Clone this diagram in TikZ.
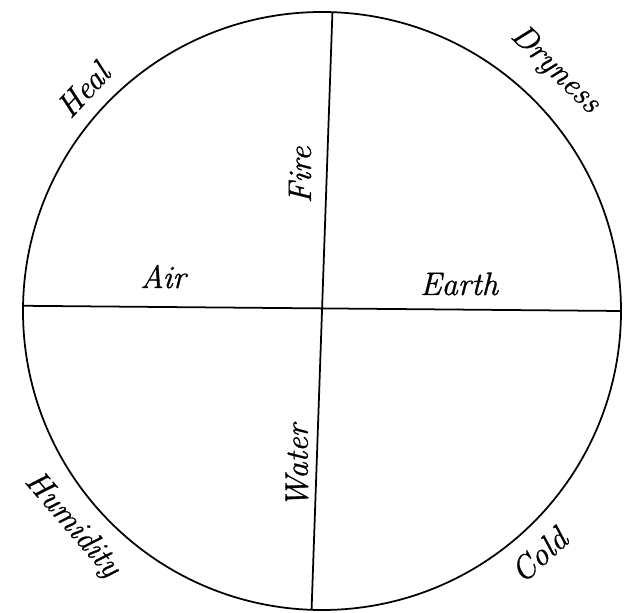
\documentclass[tikz,border=0pt]{standalone}
\usepackage{fontspec}
\newfontfamily\heavyroman{Latin Modern Roman}[FakeBold=0.9]
\begin{document}
\begin{tikzpicture}[
    word/.style={font=\heavyroman\fontsize{18.5}{22}\selectfont\itshape, inner sep=0pt},
    rim/.style={line width=1pt}]
    \useasboundingbox (-6.44,-6.02) rectangle (6.06,6.22);
    \node[rim, circle, draw, minimum size=11.96cm, inner sep=0pt, outer sep=0pt] (world) at (0,0) {};
    \draw[rim] (world.88.9) -- (world.268.9);
    \draw[rim] (world.179.3) -- (world.-0.7);
    \node[word, rotate=90] (fire) at (-0.44,2.72) {Fire};
    \node[word, rotate=90] (water) at (-0.5,-3.1) {Water};
    \node[word, anchor=base] (air) at (-3.18,0.46) {Air};
    \node[word, anchor=base] (earth) at (2.74,0.32) {Earth};
    \node[word, rotate=47] (heat) at (-4.78,4.42) {Heal};
    \node[word, rotate=-44] (dryness) at (4.66,4.82) {Dryness};
    \node[word, rotate=-49] (humidity) at (-5.0,-4.28) {Humidity};
    \node[word, rotate=42] (cold) at (4.34,-4.88) {Cold};
\end{tikzpicture}
\end{document}
